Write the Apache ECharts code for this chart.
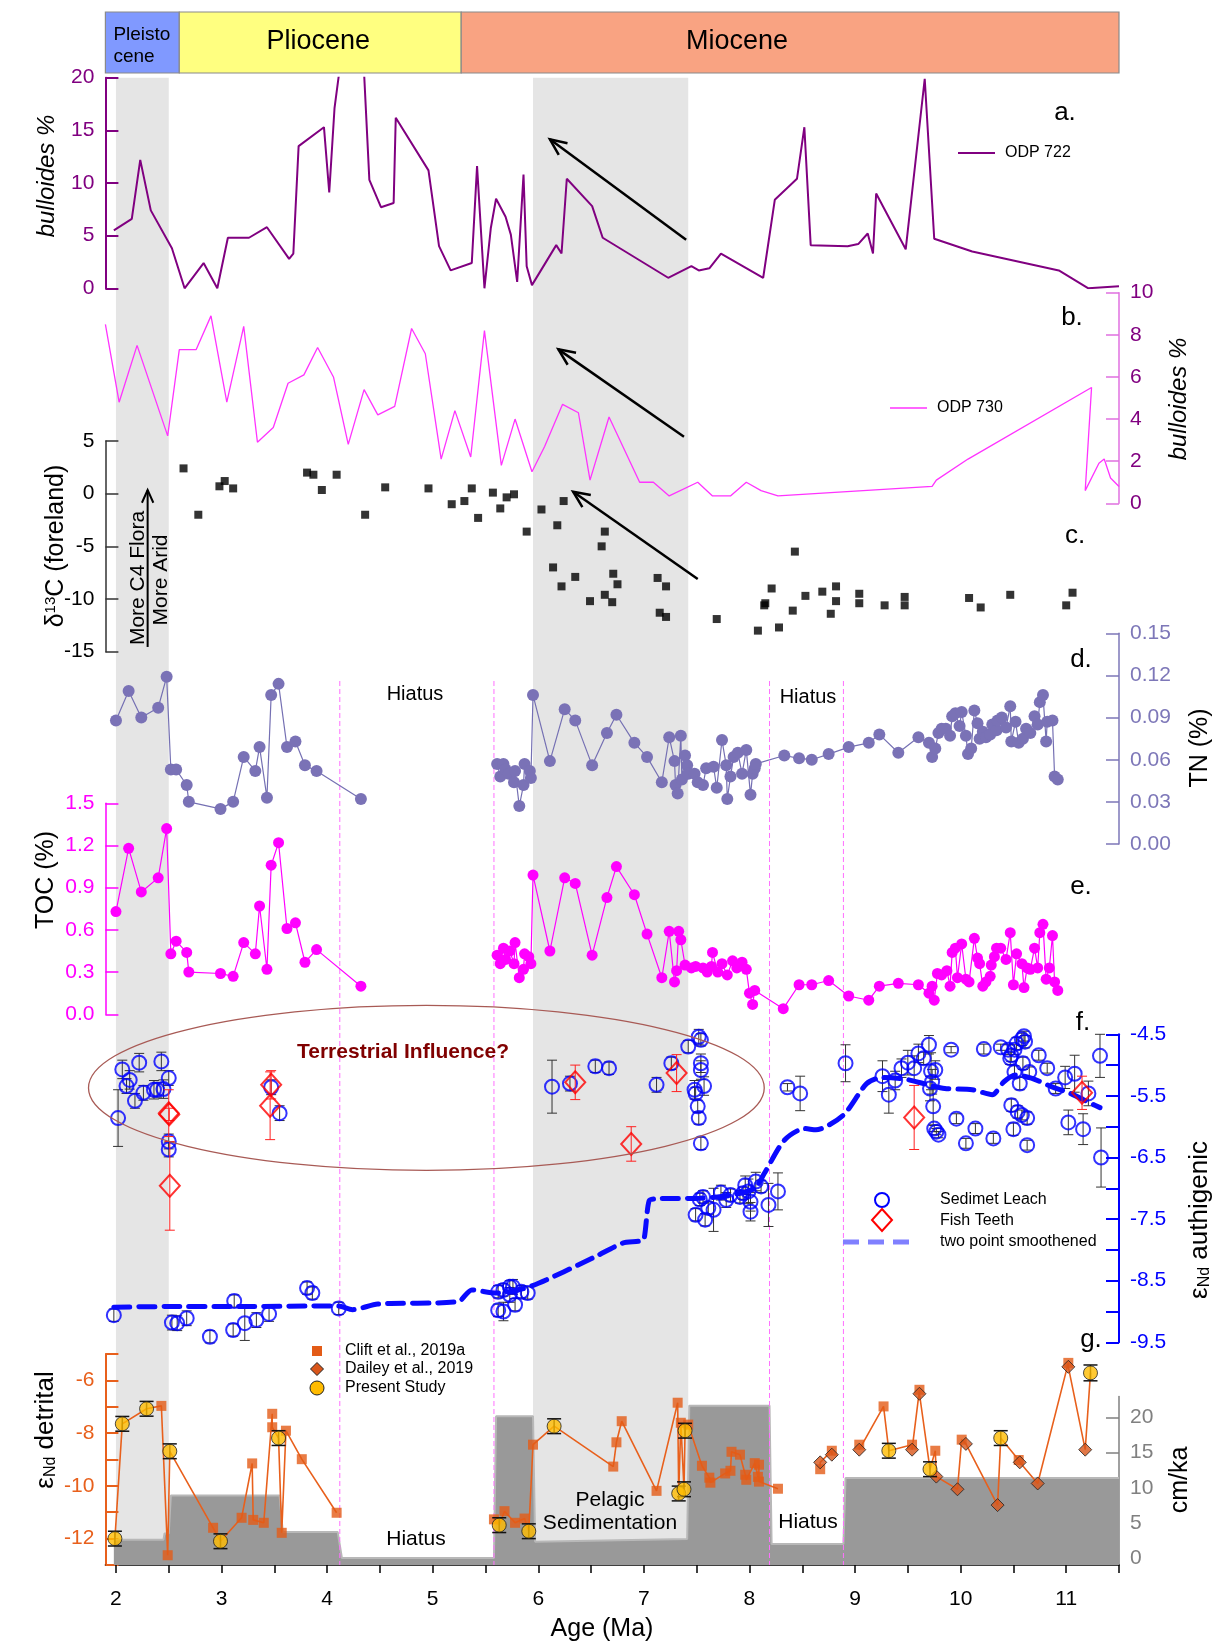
<!DOCTYPE html>
<html>
<head>
<meta charset="utf-8">
<script src="https://cdn.jsdelivr.net/npm/echarts@6.0.0/dist/echarts.min.js"></script>
<style>
  html, body { margin: 0; padding: 0; background: #fff; }
  #main { width: 1215px; height: 1642px; }
</style>
</head>
<body>
<div id="main"></div>
<script>
// ---- epochs / shading / hiatus ----
const epoch_names = ['Pleisto\ncene', 'Pliocene', 'Miocene'];
const epoch_start = [1.9, 2.6, 5.27];
const epoch_end = [2.6, 5.27, 11.5];
const strip_start = [2.0, 5.95];
const strip_end = [2.5, 7.42];
const hiatus_age = [4.12, 5.58, 8.19, 8.89];

// ---- a. ODP 722 bulloides % ----
const a_age = [1.98, 2.15, 2.23, 2.33, 2.53, 2.65, 2.83, 2.96, 3.06, 3.26,
  3.43, 3.64, 3.68, 3.73, 3.97, 4.02, 4.07, 4.16, 4.33, 4.40,
  4.51, 4.63, 4.65, 4.96, 5.06, 5.17, 5.37, 5.42, 5.49, 5.55,
  5.60, 5.69, 5.74, 5.80, 5.86, 5.89, 5.94, 6.17, 6.22, 6.27,
  6.51, 6.61, 7.23, 7.45, 7.52, 7.62, 7.73, 8.13, 8.24, 8.45,
  8.52, 8.58, 8.93, 9.03, 9.12, 9.17, 9.20, 9.48, 9.66, 9.75,
  10.11, 10.93, 11.21, 11.50];
const a_val = [5.5, 6.6, 12.2, 7.4, 3.8, 0, 2.4, 0, 4.8, 4.8,
  5.8, 2.8, 3.3, 13.5, 15.3, 9.1, 17.1, 24, 24.5, 10.3,
  7.7, 8.1, 16.2, 11.2, 4.0, 1.7, 2.4, 11.6, 0, 5.7,
  8.5, 6.8, 5.1, 0.6, 10.8, 2.1, 0.3, 4.1, 3.3, 10.4,
  7.8, 4.8, 1.0, 2.1, 1.7, 1.9, 3.3, 1.0, 8.4, 10.4,
  15.3, 4.1, 4.0, 4.2, 5.2, 3.3, 9.0, 3.7, 19.9, 4.7,
  3.5, 1.7, 0, 0.2];

// ---- b. ODP 730 bulloides % ----
const b_age = [1.90, 2.03, 2.20, 2.49, 2.60, 2.76, 2.90, 3.05, 3.21, 3.34,
  3.49, 3.63, 3.78, 3.91, 4.06, 4.20, 4.35, 4.48, 4.64, 4.80,
  4.93, 5.08, 5.21, 5.36, 5.49, 5.65, 5.78, 5.94, 6.06, 6.23,
  6.38, 6.49, 6.67, 6.96, 7.09, 7.24, 7.51, 7.65, 7.82, 7.97,
  8.11, 8.27, 9.73, 9.77, 10.07, 11.24, 11.18, 11.31, 11.36, 11.42,
  11.50];
const b_val = [8.5, 4.8, 7.5, 3.2, 7.3, 7.3, 8.9, 4.8, 8.4, 2.9,
  3.6, 5.7, 6.1, 7.4, 6.0, 2.8, 5.4, 4.2, 4.6, 8.3,
  7.1, 2.1, 4.4, 2.2, 8.2, 1.8, 4.0, 1.5, 2.7, 4.7,
  4.3, 1.1, 4.1, 1.0, 1.0, 0.35, 1.0, 0.35, 0.35, 1.0,
  0.6, 0.35, 0.8, 1.1, 2.1, 5.5, 0.6, 1.9, 2.1, 1.2,
  0.8];

// ---- c. d13C foreland ----
const c_age = [2.64, 2.78, 2.98, 3.03, 3.11, 3.81, 3.87, 3.95, 4.09, 4.36,
  4.55, 4.96, 5.18, 5.30, 5.37, 5.43, 5.57, 5.64, 5.70, 5.77,
  5.89, 6.03, 6.18, 6.24, 6.14, 6.22, 6.35, 6.49, 6.60, 6.63,
  6.63, 6.70, 6.71, 6.75, 7.13, 7.21, 7.15, 7.21, 7.69, 8.08,
  8.14, 8.15, 8.21, 8.28, 8.41, 8.43, 8.53, 8.69, 8.77, 8.82,
  8.82, 9.04, 9.04, 9.28, 9.47, 9.47, 10.08, 10.19, 10.47, 11.00,
  11.06];
const c_val = [2.4, -2.0, 0.7, 1.2, 0.5, 2.0, 1.8, 0.35, 1.8, -2.0,
  0.6, 0.5, -1.0, -0.7, 0.5, -2.3, 0.1, -1.4, -0.35, -0.06,
  -3.6, -1.5, -3.0, -0.7, -7.0, -8.8, -7.9, -10.2, -5.0, -3.6,
  -9.6, -10.3, -7.6, -8.6, -8.0, -8.8, -11.3, -11.7, -11.9, -13.0,
  -10.6, -10.4, -9.0, -12.7, -11.1, -5.5, -9.7, -9.3, -11.4, -8.8,
  -10.2, -9.5, -10.4, -10.6, -9.8, -10.6, -9.9, -10.8, -9.6, -10.6,
  -9.4];

// ---- d. TN (%) ----
const tn_age = [2.00, 2.12, 2.24, 2.40, 2.48, 2.52, 2.57, 2.67, 2.69, 2.99,
  3.11, 3.21, 3.32, 3.36, 3.43, 3.47, 3.54, 3.62, 3.70, 3.79,
  3.90, 4.32,
  5.61, 5.64, 5.67, 5.69, 5.72, 5.77, 5.78, 5.82, 5.86, 5.87,
  5.92, 5.93, 5.95, 6.11, 6.25, 6.35, 6.51, 6.65, 6.74, 6.91,
  7.03, 7.17, 7.24, 7.29, 7.30, 7.32, 7.35, 7.36, 7.39, 7.41,
  7.42, 7.48, 7.51, 7.56, 7.59, 7.66, 7.69, 7.74, 7.78, 7.79,
  7.82, 7.85, 7.89, 7.93, 7.97, 8.01, 8.03, 8.05, 8.06,
  8.33, 8.47, 8.59, 8.75, 8.94, 9.13, 9.23, 9.41, 9.60, 9.70,
  9.73, 9.76, 9.79, 9.82, 9.86, 9.90, 9.92, 9.95, 9.99, 10.01,
  10.05, 10.07, 10.10, 10.13, 10.16, 10.18, 10.21, 10.24, 10.28, 10.30,
  10.34, 10.35, 10.39, 10.43, 10.47, 10.48, 10.52, 10.55, 10.59, 10.62,
  10.66, 10.70, 10.73, 10.75, 10.78, 10.81, 10.82, 10.87, 10.89, 10.92];
const tn_val = [0.088, 0.109, 0.090, 0.097, 0.119, 0.053, 0.053, 0.042, 0.030, 0.025,
  0.030, 0.062, 0.052, 0.069, 0.033, 0.106, 0.114, 0.069, 0.073, 0.056,
  0.052, 0.032,
  0.057, 0.048, 0.057, 0.053, 0.050, 0.044, 0.052, 0.027, 0.042, 0.057,
  0.052, 0.047, 0.106, 0.059, 0.096, 0.088, 0.056, 0.079, 0.092, 0.072,
  0.062, 0.044, 0.076, 0.059, 0.042, 0.036, 0.077, 0.046, 0.063, 0.056,
  0.050, 0.050, 0.044, 0.042, 0.054, 0.055, 0.040, 0.074, 0.056, 0.032,
  0.048, 0.062, 0.065, 0.050, 0.067, 0.035, 0.050, 0.054, 0.057,
  0.063, 0.061, 0.060, 0.064, 0.069, 0.072, 0.078, 0.065, 0.076, 0.072,
  0.062, 0.068, 0.079, 0.082, 0.082, 0.077, 0.091, 0.093, 0.084, 0.094,
  0.077, 0.064, 0.068, 0.095, 0.086, 0.075, 0.080, 0.076, 0.078, 0.085,
  0.081, 0.088, 0.090, 0.083, 0.098, 0.073, 0.087, 0.072, 0.075, 0.082,
  0.079, 0.091, 0.085, 0.101, 0.106, 0.073, 0.087, 0.088, 0.048, 0.046];

// ---- e. TOC (%) ----
const toc_age = [2.00, 2.12, 2.24, 2.40, 2.48, 2.52, 2.57, 2.67, 2.69, 2.99,
  3.11, 3.21, 3.32, 3.36, 3.43, 3.47, 3.54, 3.62, 3.70, 3.79,
  3.90, 4.32,
  5.61, 5.64, 5.67, 5.69, 5.73, 5.77, 5.78, 5.82, 5.86, 5.87,
  5.91, 5.93, 5.95, 6.11, 6.25, 6.35, 6.51, 6.65, 6.74, 6.91,
  7.03, 7.17, 7.24, 7.29, 7.31, 7.33, 7.35, 7.39, 7.45, 7.49,
  7.56, 7.60, 7.64, 7.65, 7.70, 7.74, 7.79, 7.84, 7.88, 7.93,
  7.97, 8.00, 8.03, 8.05,
  8.32, 8.47, 8.59, 8.75, 8.94, 9.13, 9.23, 9.41, 9.60, 9.70,
  9.73, 9.75, 9.78, 9.82, 9.87, 9.90, 9.92, 9.95, 9.97, 10.01,
  10.05, 10.08, 10.13, 10.16, 10.18, 10.21, 10.24, 10.28, 10.29, 10.32,
  10.34, 10.38, 10.43, 10.47, 10.50, 10.53, 10.58, 10.60, 10.63, 10.66,
  10.70, 10.73, 10.75, 10.78, 10.81, 10.84, 10.87, 10.89, 10.92];
const toc_val = [0.73, 1.18, 0.87, 0.97, 1.32, 0.43, 0.52, 0.44, 0.30, 0.29,
  0.27, 0.51, 0.43, 0.77, 0.32, 1.06, 1.22, 0.61, 0.65, 0.37,
  0.46, 0.20,
  0.42, 0.36, 0.47, 0.39, 0.45, 0.36, 0.51, 0.26, 0.32, 0.43,
  0.41, 0.36, 0.99, 0.45, 0.97, 0.93, 0.42, 0.83, 1.05, 0.85,
  0.57, 0.26, 0.59, 0.23, 0.31, 0.59, 0.53, 0.35, 0.33, 0.34,
  0.33, 0.30, 0.34, 0.44, 0.30, 0.36, 0.28, 0.38, 0.33, 0.37,
  0.32, 0.15, 0.07, 0.17,
  0.04, 0.21, 0.21, 0.24, 0.13, 0.10, 0.20, 0.22, 0.21, 0.15,
  0.20, 0.10, 0.29, 0.28, 0.31, 0.20, 0.44, 0.47, 0.26, 0.50,
  0.25, 0.23, 0.54, 0.40, 0.36, 0.20, 0.23, 0.27, 0.35, 0.41,
  0.47, 0.47, 0.39, 0.58, 0.21, 0.43, 0.36, 0.19, 0.33, 0.32,
  0.47, 0.33, 0.58, 0.64, 0.25, 0.33, 0.56, 0.23, 0.17];

// ---- f. eNd authigenic ----
const leach_age = [2.02, 2.06, 2.10, 2.13, 2.18, 2.22, 2.26, 2.36, 2.39, 2.43,
  2.45, 2.50, 2.50, 2.50, 3.47, 3.55, 6.13, 6.30, 6.54, 6.67,
  7.12, 7.26, 7.42, 7.52, 7.54, 7.54, 7.54, 7.57, 7.48, 7.51,
  7.52, 7.54, 7.49, 8.36, 8.48, 8.91, 9.26, 9.32, 9.38, 9.44,
  9.50, 9.56, 9.60, 9.65, 9.70, 9.72, 9.76, 9.73, 9.71, 9.74,
  9.75, 9.77, 9.79, 9.91, 9.96, 10.05, 10.14, 10.22, 10.31, 10.38,
  10.45, 10.48, 10.47, 10.51, 10.53, 10.58, 10.60, 10.61, 10.59, 10.51,
  10.56, 10.65, 10.48, 10.54, 10.58, 10.63, 10.50, 10.63, 10.74, 10.82,
  10.90, 10.99, 11.08, 11.02, 11.16, 11.21, 11.32, 11.33,
  1.98, 2.53, 2.58, 2.67, 2.89, 3.11, 3.12, 3.22, 3.33, 3.45,
  3.81, 3.86, 4.11, 5.62, 5.67, 5.62, 5.67, 5.73, 5.78, 5.76,
  5.84, 5.90, 5.73, 7.53, 7.49, 7.58, 7.56, 7.61, 7.66, 7.73,
  7.78, 7.82, 7.91, 7.94, 7.96, 7.99, 8.01, 8.01, 8.06, 8.11,
  8.18, 8.27];
const leach_val = [-5.86, -5.07, -5.34, -5.24, -5.58, -4.96, -5.45, -5.40, -5.40, -4.94,
  -5.39, -5.21, -6.24, -6.37, -5.36, -5.78, -5.35, -5.30, -5.02, -5.05,
  -5.32, -4.97, -4.70, -4.54, -4.59, -4.97, -5.08, -5.34, -5.40, -5.67,
  -5.86, -6.27, -5.46, -5.36, -5.46, -4.97, -5.18, -5.48, -5.25, -5.05,
  -4.96, -5.05, -4.81, -4.89, -4.67, -5.10, -5.08, -5.27, -5.38, -5.67,
  -6.03, -6.08, -6.13, -4.75, -5.87, -6.27, -6.03, -4.74, -6.19, -4.71,
  -4.75, -4.84, -4.89, -4.75, -4.65, -4.58, -4.53, -4.62, -4.97, -5.11,
  -5.30, -5.11, -5.65, -5.76, -5.81, -5.86, -6.04, -6.30, -4.84, -5.05,
  -5.38, -5.20, -5.14, -5.93, -6.04, -5.46, -4.85, -6.50,
  -9.06, -9.18, -9.19, -9.11, -9.41, -9.30, -8.83, -9.19, -9.14, -9.04,
  -8.62, -8.70, -8.95, -8.98, -9.00, -8.68, -8.65, -8.73, -8.89, -8.60,
  -8.68, -8.70, -8.60, -7.18, -7.43, -7.51, -7.14, -7.32, -7.35, -7.07,
  -7.19, -7.11, -7.14, -7.08, -6.95, -7.05, -7.22, -7.38, -6.89, -6.97,
  -7.27, -7.05];
const leach_err = [0.46, 0.15, 0.12, 0.15, 0.12, 0.15, 0.12, 0.15, 0.12, 0.15,
  0.15, 0.12, 0.12, 0.12, 0.12, 0.12, 0.43, 0.12, 0.10, 0.10,
  0.12, 0.10, 0.10, 0.12, 0.10, 0.15, 0.15, 0.15, 0.15, 0.10,
  0.10, 0.10, 0.10, 0.06, 0.28, 0.30, 0.25, 0.30, 0.15, 0.15,
  0.20, 0.20, 0.15, 0.10, 0.15, 0.30, 0.15, 0.20, 0.20, 0.30,
  0.05, 0.05, 0.05, 0.05, 0.08, 0.08, 0.08, 0.08, 0.08, 0.05,
  0.08, 0.10, 0.10, 0.08, 0.10, 0.10, 0.08, 0.10, 0.10, 0.10,
  0.10, 0.08, 0.10, 0.10, 0.08, 0.10, 0.10, 0.08, 0.08, 0.08,
  0.08, 0.18, 0.30, 0.20, 0.25, 0.20, 0.35, 0.48,
  0.10, 0.12, 0.12, 0.12, 0.10, 0.10, 0.10, 0.28, 0.12, 0.12,
  0.10, 0.10, 0.10, 0.10, 0.15, 0.10, 0.10, 0.12, 0.10, 0.12,
  0.10, 0.10, 0.10, 0.10, 0.10, 0.10, 0.10, 0.10, 0.35, 0.12,
  0.12, 0.10, 0.10, 0.10, 0.15, 0.20, 0.15, 0.15, 0.15, 0.10,
  0.35, 0.30];

const fish_age = [2.50, 2.505, 2.51, 3.46, 3.47, 6.35, 6.88, 7.31, 9.56, 11.15];
const fish_val = [-5.78, -5.80, -6.96, -5.66, -5.32, -5.28, -6.28, -5.13, -5.85, -5.45];
const fish_err = [0.38, 0.10, 0.72, 0.55, 0.23, 0.28, 0.28, 0.30, 0.52, 0.27];

const smooth_age = [1.98, 2.49, 3.12, 4.11, 4.24, 4.48, 5.24, 5.37, 5.60, 5.93,
  6.54, 6.80, 6.95, 7.00, 7.05, 7.12, 7.53, 7.80, 8.05, 8.14,
  8.33, 8.52, 8.63, 8.89, 9.11, 9.26, 9.48, 9.67, 9.85, 10.11,
  10.30, 10.41, 10.52, 10.67, 10.86, 11.04, 11.23, 11.32];
const smooth_val = [-8.93, -8.92, -8.92, -8.91, -8.97, -8.88, -8.84, -8.65, -8.70, -8.59,
  -8.11, -7.89, -7.86, -7.83, -7.20, -7.17, -7.16, -7.12, -7.00, -6.76,
  -6.22, -6.03, -6.05, -5.81, -5.30, -5.20, -5.23, -5.31, -5.38, -5.40,
  -5.48, -5.27, -5.16, -5.21, -5.35, -5.46, -5.62, -5.69];

// ---- g. eNd detrital and sedimentation rate ----
const clift_age = [2.43, 2.49, 2.92, 3.19, 3.29, 3.30, 3.40, 3.48, 3.48, 3.57,
  3.61, 3.76, 4.09, 5.58, 5.68, 5.78, 5.87, 5.95, 6.71, 6.74,
  6.79, 7.12, 7.32, 7.35, 7.42, 7.55, 7.62, 7.63, 7.77, 7.82,
  7.83, 7.91, 7.96, 7.97, 8.05, 8.08, 8.09, 8.09, 8.27, 8.67,
  8.78, 9.04, 9.27, 9.54, 9.61, 9.76, 10.01, 10.55, 11.02];
const clift_val = [-6.97, -12.63, -11.59, -11.21, -9.15, -11.29, -11.40, -7.27, -7.78, -11.78,
  -7.91, -8.99, -11.02, -11.27, -10.96, -11.40, -11.24, -8.44, -9.27, -8.35,
  -7.55, -10.19, -6.85, -7.61, -7.68, -9.24, -9.69, -9.88, -9.53, -9.43,
  -8.71, -8.82, -9.58, -9.77, -9.14, -9.66, -9.20, -9.84, -10.11, -9.37,
  -8.67, -8.44, -6.99, -8.44, -6.36, -8.67, -8.25, -9.02, -5.34];
const dailey_age = [8.67, 8.78, 9.04, 9.54, 9.61, 9.77, 9.97, 10.05, 10.35, 10.56, 10.73, 11.02, 11.18];
const dailey_val = [-9.11, -8.82, -8.63, -8.63, -6.51, -9.65, -10.13, -8.41, -10.73, -9.11, -9.91, -5.49, -8.63];
const study_age = [1.99, 2.06, 2.29, 2.51, 2.99, 3.54, 5.63, 5.91, 6.15, 7.33, 7.38, 7.39, 9.32, 9.71, 10.38, 11.23];
const study_val = [-12.00, -7.65, -7.08, -8.69, -12.10, -8.19, -11.49, -11.72, -7.74, -10.29, -10.13, -7.91, -8.67, -9.37, -8.19, -5.72];
const study_err = [0.28, 0.28, 0.28, 0.28, 0.28, 0.28, 0.28, 0.28, 0.28, 0.28, 0.28, 0.28, 0.28, 0.28, 0.28, 0.30];
const g_breaks = [5.0, 8.4, 8.9];

const sed_age = [1.98, 2.45, 2.46, 2.50, 2.52, 3.55, 3.58, 4.10, 4.14, 5.58,
  5.60, 5.95, 5.97, 7.41, 7.43, 8.19, 8.21, 8.89, 8.91, 11.50];
const sed_val = [2.6, 2.6, 3.5, 3.5, 8.9, 8.9, 3.7, 3.7, 0, 0,
  20.2, 20.2, 2.3, 2.7, 21.7, 21.7, 2.0, 2.0, 11.4, 11.4];

// ---- tick labels ----
const x_ticks = [2, 2.5, 3, 3.5, 4, 4.5, 5, 5.5, 6, 6.5, 7, 7.5, 8, 8.5, 9, 9.5, 10, 10.5, 11, 11.5];
const x_labels = [2, 3, 4, 5, 6, 7, 8, 9, 10, 11];
const a_ticks = [0, 5, 10, 15, 20];
const b_ticks = [0, 2, 4, 6, 8, 10];
const c_ticks = [-15, -10, -5, 0, 5];
const d_ticks = [0, 0.03, 0.06, 0.09, 0.12, 0.15];
const e_ticks = [0, 0.3, 0.6, 0.9, 1.2, 1.5];
const f_ticks = [-9.5, -9, -8.5, -8, -7.5, -7, -6.5, -6, -5.5, -5, -4.5];
const f_labels = [-9.5, -8.5, -7.5, -6.5, -5.5, -4.5];
const g_ticks = [-13, -12, -11, -10, -9, -8, -7, -6, -5];
const g_labels = [-12, -10, -8, -6];
const sed_ticks = [0, 5, 10, 15, 20];

// ---------------------------------------------------------------
const FONT = 'Liberation Sans, Arial, Helvetica, sans-serif';
const chart = echarts.init(document.getElementById('main'));

function pairs(xs, ys) {
  return xs.map((x, i) => [x, ys[i]]);
}
function withBreaks(xs, ys, breaks) {
  const out = [];
  for (let i = 0; i < xs.length; i++) {
    if (i > 0 && breaks.some(b => xs[i - 1] < b && xs[i] > b)) out.push(['-', '-']);
    out.push([xs[i], ys[i]]);
  }
  return out;
}
function triples(xs, ys, es) {
  return xs.map((x, i) => [x, ys[i], es[i]]);
}

// merged detrital line, sorted by age
const g_all = [];
clift_age.forEach((x, i) => g_all.push([x, clift_val[i], 0]));
dailey_age.forEach((x, i) => g_all.push([x, dailey_val[i], 1]));
study_age.forEach((x, i) => g_all.push([x, study_val[i], 2]));
g_all.sort((p, q) => p[0] - q[0] || p[2] - q[2]);
const g_line = withBreaks(g_all.map(p => p[0]), g_all.map(p => p[1]), g_breaks);

// layout of the stacked panels: [top, height]
const boxes = [
  [12, 61],        // 0 epochs
  [77.7, 210.6],   // 1 a
  [292.7, 210.6],  // 2 b
  [441, 210.7],    // 3 c
  [633.3, 210.7],  // 4 d
  [803.3, 211],    // 5 e
  [1034.3, 308],   // 6 f
  [1353.9, 211.1], // 7 g
  [1396.5, 168.5], // 8 cm/ka
  [77.7, 1487.3],  // 9 grey strips
  [681, 884]       // 10 hiatus lines
];
const grids = boxes.map(b => ({ left: 105.4, right: 96, top: b[0], height: b[1], containLabel: false, outerBoundsMode: 'none' }));

const xAxes = boxes.map((b, i) => ({
  type: 'value', gridIndex: i, min: 1.9, max: 11.5, show: false, splitLine: { show: false }
}));
xAxes[7] = {
  type: 'value', gridIndex: 7, min: 1.9, max: 11.5, show: true,
  axisLine: { show: true, lineStyle: { color: '#000', width: 1.5 } },
  axisTick: { show: true, inside: false, length: 8, lineStyle: { color: '#000', width: 1.5 }, customValues: x_ticks },
  axisLabel: { show: true, customValues: x_labels, fontSize: 21, color: '#000', margin: 24, fontFamily: FONT },
  splitLine: { show: false }
};

function yAx(i, min, max, pos, lineColor, labelColor, ticks, labels, fmt, lw) {
  return {
    type: 'value', gridIndex: i, min: min, max: max, position: pos,
    axisLine: { show: true, lineStyle: { color: lineColor, width: lw || 1.5 } },
    axisTick: { show: true, inside: true, length: 13, lineStyle: { color: lineColor, width: lw || 1.5 }, customValues: ticks },
    axisLabel: { show: true, customValues: labels, color: labelColor, fontSize: 21, fontFamily: FONT, margin: 11,
      formatter: fmt || (v => String(v)) },
    splitLine: { show: false }
  };
}
const hidden = (i, min, max) => ({ type: 'value', gridIndex: i, min: min, max: max, show: false, splitLine: { show: false } });

const yAxes = [
  hidden(0, 0, 1),
  yAx(1, 0, 20, 'left', '#800080', '#800080', a_ticks, a_ticks, null, 2),
  yAx(2, 0, 10, 'right', '#e070e0', '#800080', b_ticks, b_ticks),
  yAx(3, -15, 5, 'left', '#333', '#000', c_ticks, c_ticks),
  yAx(4, 0, 0.15, 'right', '#7d77b8', '#7d77b8', d_ticks, d_ticks, v => v.toFixed(2)),
  yAx(5, 0, 1.5, 'left', '#ff00ff', '#ff00ff', e_ticks, e_ticks, v => v.toFixed(1)),
  yAx(6, -9.5, -4.5, 'right', '#0000ff', '#0000ff', f_ticks, f_labels, v => v.toFixed(1), 2),
  yAx(7, -13, -5, 'left', '#e8601c', '#e8601c', g_ticks, g_labels, null, 2),
  yAx(8, -1, 23, 'right', '#808080', '#808080', sed_ticks, sed_ticks),
  hidden(9, 0, 1),
  hidden(10, 0, 1)
];

const epochColors = ['#8099ff', '#ffff80', '#f9a382'];
const epochFont = [19, 27, 27];
const epochShift = [0, -2, -53];
const epochDy = [3, -1, -1];

function errBars(color, cap, lw) {
  return function (params, api) {
    const x = api.value(0), y = api.value(1), e = api.value(2);
    const lo = api.coord([x, y - e]), hi = api.coord([x, y + e]);
    const st = { stroke: color, lineWidth: lw };
    return {
      type: 'group', children: [
        { type: 'line', shape: { x1: lo[0], y1: lo[1], x2: hi[0], y2: hi[1] }, style: st },
        { type: 'line', shape: { x1: lo[0] - cap, y1: lo[1], x2: lo[0] + cap, y2: lo[1] }, style: st },
        { type: 'line', shape: { x1: hi[0] - cap, y1: hi[1], x2: hi[0] + cap, y2: hi[1] }, style: st }
      ]
    };
  };
}

const series = [
  // epoch bar
  {
    type: 'custom', xAxisIndex: 0, yAxisIndex: 0, z: 1, silent: true,
    data: epoch_names.map((n, i) => [epoch_start[i], epoch_end[i], i]),
    encode: { x: [0, 1] },
    renderItem: function (params, api) {
      const i = api.value(2);
      const p0 = api.coord([api.value(0), 1]);
      const p1 = api.coord([api.value(1), 0]);
      const cs = params.coordSys;
      const isFirst = i === 0;
      return {
        type: 'group', children: [
          { type: 'rect', shape: { x: p0[0], y: cs.y, width: p1[0] - p0[0], height: cs.height },
            style: { fill: epochColors[i], stroke: '#8a8a8a', lineWidth: 1.2 } },
          { type: 'text', x: isFirst ? p0[0] + 8 : (p0[0] + p1[0]) / 2 + epochShift[i], y: cs.y + cs.height / 2 + epochDy[i],
            style: { text: epoch_names[i], fontSize: epochFont[i], fontFamily: FONT, fill: '#000',
              align: isFirst ? 'left' : 'center', verticalAlign: 'middle', lineHeight: 22 } }
        ]
      };
    }
  },
  // grey strips
  {
    type: 'custom', xAxisIndex: 9, yAxisIndex: 9, z: 0, silent: true,
    data: strip_start.map((s, i) => [s, strip_end[i]]),
    encode: { x: [0, 1] },
    renderItem: function (params, api) {
      const cs = params.coordSys;
      const p0 = api.coord([api.value(0), 0]);
      const p1 = api.coord([api.value(1), 0]);
      return { type: 'rect', shape: { x: p0[0], y: cs.y, width: p1[0] - p0[0], height: cs.height },
        style: { fill: '#e5e5e5' } };
    }
  },
  // sedimentation rate
  {
    type: 'line', xAxisIndex: 8, yAxisIndex: 8, z: 1, silent: true,
    data: pairs(sed_age, sed_val), symbol: 'none',
    lineStyle: { color: '#b8b8b8', width: 2 },
    areaStyle: { color: '#999999', opacity: 1, origin: 'start' }
  },
  // hiatus lines
  {
    type: 'custom', xAxisIndex: 10, yAxisIndex: 10, z: 1.5, silent: true,
    data: hiatus_age.map(h => [h, 0]),
    encode: { x: 0 },
    renderItem: function (params, api) {
      const cs = params.coordSys;
      const p = api.coord([api.value(0), 0]);
      return { type: 'line', shape: { x1: p[0], y1: cs.y, x2: p[0], y2: cs.y + cs.height },
        style: { stroke: '#ff70ff', lineWidth: 1, lineDash: [5, 3] } };
    }
  },
  // a
  {
    type: 'line', xAxisIndex: 1, yAxisIndex: 1, data: pairs(a_age, a_val), symbol: 'none', clip: true,
    lineStyle: { color: '#800080', width: 2 }
  },
  // b
  {
    type: 'line', xAxisIndex: 2, yAxisIndex: 2, data: pairs(b_age, b_val), symbol: 'none',
    lineStyle: { color: '#ff33ff', width: 1.3 }
  },
  // c
  {
    type: 'scatter', xAxisIndex: 3, yAxisIndex: 3, data: pairs(c_age, c_val), symbol: 'rect', symbolSize: 8,
    itemStyle: { color: '#000' }
  },
  // d
  {
    type: 'line', xAxisIndex: 4, yAxisIndex: 4, data: withBreaks(tn_age, tn_val, [5.0]),
    symbol: 'circle', symbolSize: 12, showAllSymbol: true, connectNulls: false,
    lineStyle: { color: '#7570b3', width: 1.2 }, itemStyle: { color: '#7a72b6' }
  },
  // e
  {
    type: 'line', xAxisIndex: 5, yAxisIndex: 5, data: withBreaks(toc_age, toc_val, [5.0]),
    symbol: 'circle', symbolSize: 11, showAllSymbol: true, connectNulls: false,
    lineStyle: { color: '#ff00ff', width: 1.2 }, itemStyle: { color: '#ff00ff' }
  },
  // f
  {
    type: 'custom', xAxisIndex: 6, yAxisIndex: 6, z: 2,
    data: triples(leach_age, leach_val, leach_err), encode: { x: 0, y: 1 },
    renderItem: errBars('#333', 5, 1)
  },
  {
    type: 'scatter', xAxisIndex: 6, yAxisIndex: 6, z: 3, data: pairs(leach_age, leach_val),
    symbol: 'circle', symbolSize: 14,
    itemStyle: { color: 'rgba(0,0,0,0)', borderColor: '#0000ff', borderWidth: 2 }
  },
  {
    type: 'line', xAxisIndex: 6, yAxisIndex: 6, z: 4, data: pairs(smooth_age, smooth_val),
    symbol: 'none', smooth: 0.25,
    lineStyle: { color: '#0a0aff', width: 5, type: [16, 9], cap: 'round' }
  },
  {
    type: 'custom', xAxisIndex: 6, yAxisIndex: 6, z: 5,
    data: triples(fish_age, fish_val, fish_err), encode: { x: 0, y: 1 },
    renderItem: errBars('#ff2020', 5, 1)
  },
  {
    type: 'scatter', xAxisIndex: 6, yAxisIndex: 6, z: 6, data: pairs(fish_age, fish_val),
    symbol: 'diamond', symbolSize: [20, 22],
    itemStyle: { color: 'rgba(0,0,0,0)', borderColor: '#ff0000', borderWidth: 2 }
  },
  // g
  {
    type: 'line', xAxisIndex: 7, yAxisIndex: 7, z: 3, data: g_line, symbol: 'none', connectNulls: false,
    lineStyle: { color: '#e8601c', width: 1.6 }
  },
  {
    type: 'scatter', xAxisIndex: 7, yAxisIndex: 7, z: 4, data: pairs(clift_age, clift_val),
    symbol: 'rect', symbolSize: 10, itemStyle: { color: '#e35b17' }
  },
  {
    type: 'scatter', xAxisIndex: 7, yAxisIndex: 7, z: 5, data: pairs(dailey_age, dailey_val),
    symbol: 'diamond', symbolSize: 13, itemStyle: { color: '#d9561a', borderColor: '#222', borderWidth: 1 }
  },
  {
    type: 'custom', xAxisIndex: 7, yAxisIndex: 7, z: 6,
    data: triples(study_age, study_val, study_err), encode: { x: 0, y: 1 },
    renderItem: errBars('#111', 7, 1.5)
  },
  {
    type: 'scatter', xAxisIndex: 7, yAxisIndex: 7, z: 7, data: pairs(study_age, study_val),
    symbol: 'circle', symbolSize: 14, itemStyle: { color: '#ffbb00', borderColor: '#222', borderWidth: 1 }
  }
];

chart.setOption({
  animation: false,
  backgroundColor: '#fff',
  textStyle: { fontFamily: FONT },
  grid: grids,
  xAxis: xAxes,
  yAxis: yAxes,
  series: series
});

// ---- annotations (arrows, ellipse, labels, legends) ----
const arrows = [
  { g: 1, from: [7.40, 4.6], to: [6.11, 14.15] },
  { g: 2, from: [7.38, 3.16], to: [6.19, 7.31] },
  { g: 3, from: [7.51, -8.1], to: [6.33, 0.19] }
];
const P = (g, x, y) => chart.convertToPixel({ xAxisIndex: g, yAxisIndex: g }, [x, y]);
const els = [];

function arrow(t, h, w, len) {
  const ang = Math.atan2(h[1] - t[1], h[0] - t[0]);
  const s = 0.42;
  const a1 = [h[0] - len * Math.cos(ang - s), h[1] - len * Math.sin(ang - s)];
  const a2 = [h[0] - len * Math.cos(ang + s), h[1] - len * Math.sin(ang + s)];
  els.push({ type: 'line', z: 50, shape: { x1: t[0], y1: t[1], x2: h[0], y2: h[1] }, style: { stroke: '#000', lineWidth: w } });
  els.push({ type: 'polyline', z: 50, shape: { points: [a1, h, a2] }, style: { stroke: '#000', lineWidth: w, fill: null } });
}
arrows.forEach(a => arrow(P(a.g, a.from[0], a.from[1]), P(a.g, a.to[0], a.to[1]), 2.5, 18));
// C4 arrow
arrow(P(3, 2.30, -14.55), P(3, 2.30, 0.35), 2, 14);

// ellipse round the terrestrial cluster
const ec = P(6, 4.94, -5.37);
const ex = P(6, 4.94 + 3.2, -5.37);
const ey = P(6, 4.94, -5.37 + 1.34);
els.push({ type: 'ellipse', z: 40, shape: { cx: ec[0], cy: ec[1], rx: ex[0] - ec[0], ry: ec[1] - ey[1] },
  style: { fill: null, stroke: '#a85a55', lineWidth: 1.3 } });

function txt(t, x, y, size, opt) {
  opt = opt || {};
  els.push({
    type: 'text', z: 60, x: x, y: y, rotation: opt.rot || 0,
    style: Object.assign({
      text: t, fontSize: size, fontFamily: FONT, fill: opt.color || '#000',
      fontStyle: opt.italic ? 'italic' : 'normal', fontWeight: opt.bold ? 'bold' : 'normal',
      align: opt.align || 'center', verticalAlign: 'middle'
    }, opt.rich ? { rich: opt.rich } : {})
  });
}
const R90 = Math.PI / 2;
// panel letters
[['a.', 1065, 113], ['b.', 1072, 318], ['c.', 1075, 536], ['d.', 1081, 660],
 ['e.', 1081, 887], ['f.', 1083, 1023], ['g.', 1091, 1340]].forEach(p => txt(p[0], p[1], p[2], 26));
// axis titles
txt('bulloides %', 47, 176, 24, { rot: R90, italic: true });
txt('bulloides %', 1179, 399, 24, { rot: R90, italic: true });
txt('{a|δ}{s|13}{a|C (foreland)}', 56, 546, 25, { rot: R90,
  rich: { a: { fontSize: 25, fontFamily: FONT, verticalAlign: 'bottom' }, s: { fontSize: 15, fontFamily: FONT, verticalAlign: 'top' } } });
txt('TN (%)', 1200, 748, 25, { rot: R90 });
txt('TOC (%)', 46, 880, 25, { rot: R90 });
txt('{a|ε}{s|Nd}{a| authigenic}', 1200, 1220, 26, { rot: R90,
  rich: { a: { fontSize: 26, fontFamily: FONT, verticalAlign: 'top' }, s: { fontSize: 16, fontFamily: FONT, verticalAlign: 'bottom' } } });
txt('{a|ε}{s|Nd}{a| detrital}', 46, 1430, 26, { rot: R90,
  rich: { a: { fontSize: 26, fontFamily: FONT, verticalAlign: 'top' }, s: { fontSize: 16, fontFamily: FONT, verticalAlign: 'bottom' } } });
txt('cm/ka', 1180, 1480, 25, { rot: R90 });
txt('Age (Ma)', 602, 1629, 25);
txt('More C4 Flora', 138, 578, 21, { rot: R90 });
txt('More Arid', 161, 580, 21, { rot: R90 });
// notes
txt('Hiatus', 415, 694, 20);
txt('Hiatus', 808, 697, 20);
txt('Hiatus', 416, 1539, 21);
txt('Hiatus', 808, 1522, 21);
txt('Pelagic', 610, 1500, 21);
txt('Sedimentation', 610, 1523, 21);
txt('Terrestrial Influence?', 403, 1052, 21, { bold: true, color: '#800000' });
// legends a, b
els.push({ type: 'line', z: 60, shape: { x1: 958, y1: 153, x2: 995, y2: 153 }, style: { stroke: '#800080', lineWidth: 2 } });
txt('ODP 722', 1005, 153, 16, { align: 'left' });
els.push({ type: 'line', z: 60, shape: { x1: 890, y1: 408, x2: 927, y2: 408 }, style: { stroke: '#ff33ff', lineWidth: 1.3 } });
txt('ODP 730', 937, 408, 16, { align: 'left' });
// legend f
els.push({ type: 'circle', z: 60, shape: { cx: 882, cy: 1200, r: 7 }, style: { fill: null, stroke: '#0000ff', lineWidth: 2 } });
els.push({ type: 'polygon', z: 60, shape: { points: [[882, 1209], [892, 1220], [882, 1231], [872, 1220]] }, style: { fill: null, stroke: '#ff0000', lineWidth: 2 } });
els.push({ type: 'line', z: 60, shape: { x1: 843, y1: 1242, x2: 914, y2: 1242 }, style: { stroke: '#8080ff', lineWidth: 5, lineDash: [16, 9] } });
txt('Sedimet Leach', 940, 1200, 16, { align: 'left' });
txt('Fish Teeth', 940, 1221, 16, { align: 'left' });
txt('two point smoothened', 940, 1242, 16, { align: 'left' });
// legend g
els.push({ type: 'rect', z: 60, shape: { x: 312, y: 1346, width: 10, height: 10 }, style: { fill: '#e35b17' } });
els.push({ type: 'polygon', z: 60, shape: { points: [[317, 1362.5], [323.5, 1369], [317, 1375.5], [310.5, 1369]] }, style: { fill: '#d9561a', stroke: '#222', lineWidth: 1 } });
els.push({ type: 'circle', z: 60, shape: { cx: 317, cy: 1388, r: 7 }, style: { fill: '#ffbb00', stroke: '#222', lineWidth: 1 } });
txt('Clift et al., 2019a', 345, 1351, 16, { align: 'left' });
txt('Dailey et al., 2019', 345, 1369, 16, { align: 'left' });
txt('Present Study', 345, 1388, 16, { align: 'left' });

chart.setOption({ graphic: { elements: els } });
</script>
</body>
</html>
